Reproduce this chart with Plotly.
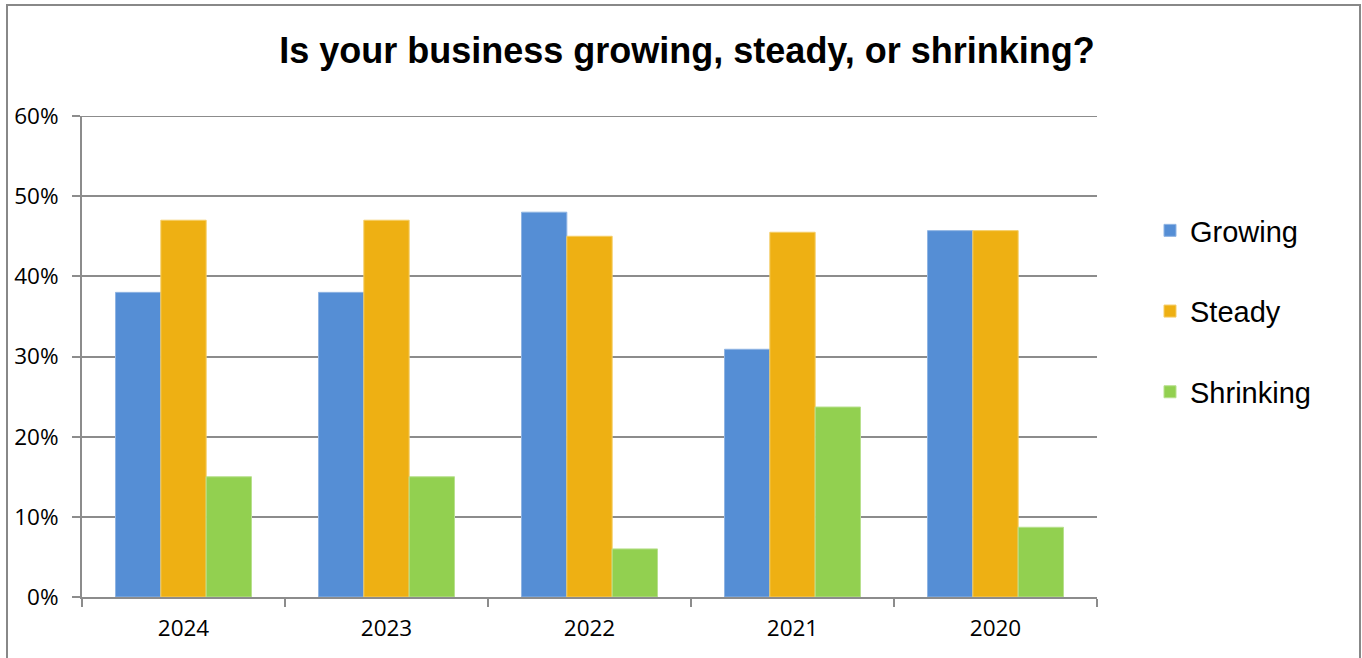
import plotly.graph_objects as go

# Survey years (left to right) and share of respondents per answer
years = ["2024", "2023", "2022", "2021", "2020"]
growing = [0.38, 0.38, 0.48, 0.309, 0.457]
steady = [0.47, 0.47, 0.45, 0.455, 0.457]
shrinking = [0.15, 0.15, 0.06, 0.237, 0.087]

series_names = ["Growing", "Steady", "Shrinking"]
series_colors = ["#558ED5", "#EEB013", "#92D050"]
edge_colors = ["#8FB4E3", "#F5CD66", "#B8E08E"]
y_ticks = [0, 0.1, 0.2, 0.3, 0.4, 0.5, 0.6]
y_tick_labels = ["0%", "10%", "20%", "30%", "40%", "50%", "60%"]
y_max = 0.6

W, H = 1362, 658
L, R, T, B = 82, 265, 116, 61

fig = go.Figure()
for name, vals, col, edge in zip(series_names, [growing, steady, shrinking],
                                 series_colors, edge_colors):
    fig.add_trace(go.Bar(
        x=years, y=vals, name=name, legendgroup=name,
        marker=dict(color=col, line=dict(color=edge, width=1)),
    ))

grid = "#8C8C8C"
pw, ph = W - L - R, H - T - B


def px_x(p):
    return (p - L) / pw


def px_y(p):
    return (H - B - p) / ph


# outer frame (open at the bottom)
fx0, fx1 = px_x(7), px_x(1360)
fy_top, fy_bot = px_y(5), px_y(700)
fig.add_shape(type="path", xref="paper", yref="paper",
              path=f"M {fx0},{fy_bot} L {fx0},{fy_top} L {fx1},{fy_top} L {fx1},{fy_bot}",
              line=dict(color="#888888", width=2))

# gridline along the top of the value range
fig.add_shape(type="line", xref="paper", yref="y", x0=0, x1=1, y0=y_max, y1=y_max,
              line=dict(color=grid, width=2), layer="below")

fig.update_layout(
    width=W, height=H,
    margin=dict(l=L, r=R, t=T, b=B, autoexpand=False),
    paper_bgcolor="white", plot_bgcolor="white",
    barmode="group", bargap=0.33, bargroupgap=0,
    title=dict(
        text="Is your business growing, steady, or shrinking?",
        font=dict(family="Liberation Sans", size=36, color="black", weight="bold"),
        x=687 / W, xanchor="center", xref="container",
        y=1 - 50 / H, yanchor="middle", yref="container",
    ),
    xaxis=dict(
        type="category", categoryorder="array", categoryarray=years,
        showline=True, linecolor=grid, linewidth=2,
        ticks="outside", tickson="boundaries", ticklen=8, tickwidth=2, tickcolor=grid,
        ticklabelstandoff=10,
        tickfont=dict(family="Open Sans", size=22.5, color="black"),
        showgrid=False,
    ),
    yaxis=dict(
        range=[0, y_max], tickvals=y_ticks, ticktext=y_tick_labels,
        showline=True, linecolor=grid, linewidth=2,
        ticks="outside", ticklen=8, tickwidth=2, tickcolor=grid,
        ticklabelstandoff=9,
        showgrid=True, gridcolor=grid, gridwidth=2,
        zeroline=False,
        tickfont=dict(family="Open Sans", size=22.5, color="black"),
    ),
    legend=dict(
        x=px_x(1150), xanchor="left", y=px_y(205), yanchor="top",
        traceorder="grouped", tracegroupgap=40,
        font=dict(family="Liberation Sans", size=29, color="black"),
        bgcolor="rgba(0,0,0,0)",
    ),
    showlegend=True,
)

fig.write_html("out.html")
